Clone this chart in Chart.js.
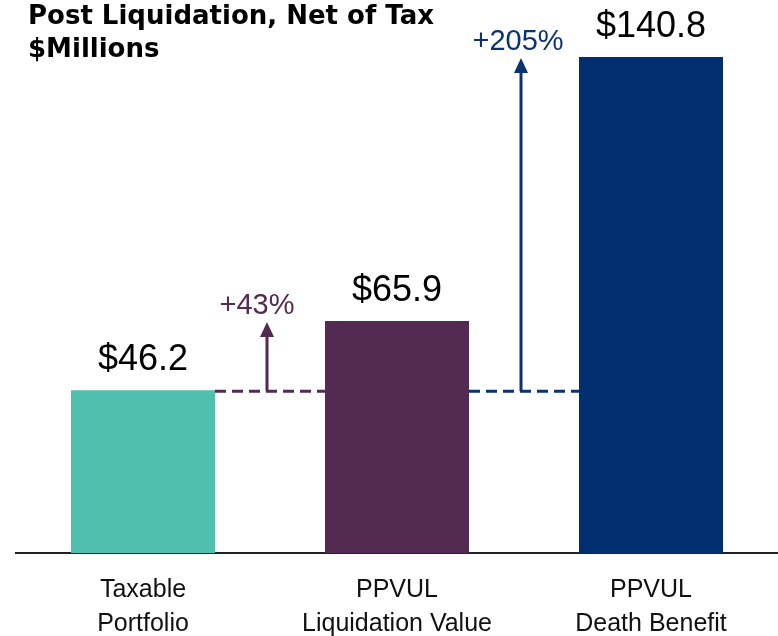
<!DOCTYPE html>
<html><head><meta charset="utf-8">
<script src="https://cdn.jsdelivr.net/npm/chart.js@4"></script>
<style>html,body{margin:0;padding:0;background:#fff}#w{width:778px;height:636px}</style>
</head><body><div id="w"><canvas id="c" width="778" height="636"></canvas></div>
<script>
const categories = [["Taxable","Portfolio"],["PPVUL","Liquidation Value"],["PPVUL","Death Benefit"]];
const values = [46.2, 65.9, 140.8];
const valueLabels = ["$46.2","$65.9","$140.8"];
const pctLabels = ["+43%","+205%"];
const barColors = ["#50bfae","#532a52","#002e6e"];
const arrowColors = ["#532a52","#0b3372"];
const titleLines = ["Post Liquidation, Net of Tax","$Millions"];

const overlay = {
  id:'overlay',
  afterDatasetsDraw(chart){
    const ctx = chart.ctx;
    const meta = chart.getDatasetMeta(0);
    const y = chart.scales.y;
    ctx.save();
    ctx.font = '36px "Liberation Sans", Arial, sans-serif';
    ctx.fillStyle = '#000';
    ctx.textAlign = 'center';
    ctx.textBaseline = 'alphabetic';
    meta.data.forEach((b,i)=>{ ctx.fillText(valueLabels[i], b.x, b.y - 20); });
    const baseY = y.getPixelForValue(values[0]) + 1;
    for(let i=0;i<2;i++){
      const a = meta.data[i], b = meta.data[i+1];
      const x0 = a.x + a.width/2, x1 = b.x - b.width/2;
      const col = arrowColors[i];
      ctx.strokeStyle = col; ctx.fillStyle = col;
      ctx.lineWidth = 3;
      ctx.setLineDash([11,6]);
      ctx.beginPath(); ctx.moveTo(x0, baseY); ctx.lineTo(x1, baseY); ctx.stroke();
      ctx.setLineDash([]);
      const ax = (a.x + b.x)/2 - 3;
      const tipY = y.getPixelForValue(values[i+1]) + 1;
      ctx.beginPath(); ctx.moveTo(ax, baseY); ctx.lineTo(ax, tipY + 13); ctx.stroke();
      ctx.beginPath(); ctx.moveTo(ax, tipY); ctx.lineTo(ax-7, tipY+15); ctx.lineTo(ax+7, tipY+15); ctx.closePath(); ctx.fill();
      ctx.font = '29px "Liberation Sans", Arial, sans-serif';
      ctx.textAlign = 'center';
      ctx.fillText(pctLabels[i], ax - (i===0?10:3), tipY - 8);
    }
    ctx.fillStyle = '#000';
    ctx.textAlign = 'left';
    ctx.font = 'bold 26px "DejaVu Sans", sans-serif';
    ctx.fillText(titleLines[0], 28, 24);
    ctx.fillText(titleLines[1], 28, 57);
    ctx.restore();
  }
};

new Chart(document.getElementById('c'), {
  type:'bar',
  data:{ labels: categories, datasets:[{ data: values, backgroundColor: barColors, borderWidth:0, barPercentage:0.567, categoryPercentage:1 }]},
  options:{
    responsive:false, animation:false,
    layout:{ padding:{ left:16, right:0, top:0, bottom:0 } },
    plugins:{ legend:{display:false}, tooltip:{enabled:false} },
    scales:{
      x:{
        grid:{ display:false, drawTicks:false },
        border:{ display:true, color:'#222', width:2 },
        ticks:{ color:'#111', padding:20, font:{ family:'"Liberation Sans", Arial, sans-serif', size:25, lineHeight:1.36 } },
        afterFit(s){ s.height = 83; }
      },
      y:{ display:false, min:0, max:157 }
    }
  },
  plugins:[overlay]
});
</script></body></html>
